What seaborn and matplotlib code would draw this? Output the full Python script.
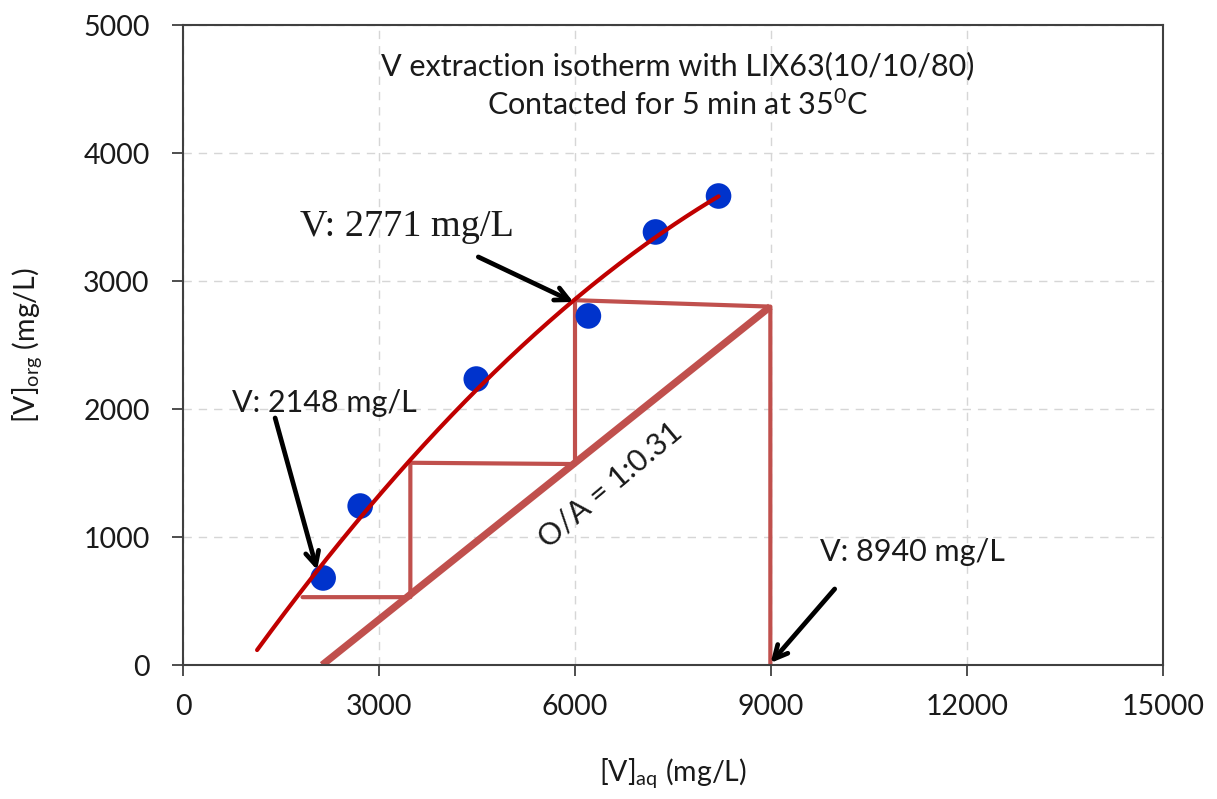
import matplotlib
matplotlib.use("Agg")
import matplotlib.pyplot as plt
import seaborn as sns
import numpy as np
import pandas as pd

# ---- data ----
exp_aq = [2145, 2712, 4489, 6205, 7232, 8197]
exp_org = [680, 1242, 2234, 2727, 3383, 3664]

# points
curve_aq = [1134, 2053, 3478, 4045, 4704, 5960, 7232, 8197]
curve_org = [117, 742, 1586, 1938, 2227, 2852, 3359, 3648]

# operating line
op_aq = [2130, 8990]
op_org = [0, 2800]

# McCabe-Thiele staircase
stair_aq = [8990, 8990, 6000, 6000, 3480, 3480, 1830]
stair_org = [0, 2800, 2850, 1570, 1580, 530, 530]

title_lines = ["V extraction isotherm with LIX63(10/10/80)", r"Contacted for 5 min at 35$^{0}$C"]
x_ticks = [0, 3000, 6000, 9000, 12000, 15000]
y_ticks = [0, 1000, 2000, 3000, 4000, 5000]

sns.set_theme(style="white")
plt.rcParams['font.family'] = ['Lato', 'DejaVu Sans']
plt.rcParams['mathtext.fontset'] = 'custom'
plt.rcParams['mathtext.rm'] = 'Lato'
plt.rcParams['mathtext.it'] = 'Lato'
plt.rcParams['mathtext.bf'] = 'Lato'

fig = plt.figure(figsize=(12.17, 7.99), dpi=100)
ax = fig.add_axes([183/1217, 1-665/799, (1163-183)/1217, (665-25)/799])

# grid
ax.grid(True, color="#D6D6D6", linestyle=(0, (6, 5)), linewidth=1.0)
ax.set_axisbelow(True)

# fitted curve (quadratic through read curve points)
coef = np.polyfit(curve_aq, curve_org, 2)
xs = np.linspace(min(curve_aq), max(curve_aq), 200)
curve_df = pd.DataFrame({"aq": xs, "org": np.polyval(coef, xs)})

stair_df = pd.DataFrame({"aq": stair_aq, "org": stair_org})
sns.lineplot(data=stair_df, x="aq", y="org", sort=False, estimator=None,
             color="#C0504D", linewidth=3.0, ax=ax, zorder=2)
op_df = pd.DataFrame({"aq": op_aq, "org": op_org})
sns.lineplot(data=op_df, x="aq", y="org", sort=False, estimator=None,
             color="#C0504D", linewidth=5.2, ax=ax, zorder=2, solid_capstyle="butt")
exp_df = pd.DataFrame({"aq": exp_aq, "org": exp_org})
sns.scatterplot(data=exp_df, x="aq", y="org", color="#0033CC", s=340,
                edgecolor="none", ax=ax, zorder=3)
sns.lineplot(data=curve_df, x="aq", y="org", sort=False, estimator=None,
             color="#C00000", linewidth=3.0, ax=ax, zorder=4)

ax.set_xlim(0, 15000)
ax.set_ylim(0, 5000)
ax.set_xticks(x_ticks)
ax.set_yticks(y_ticks)
ax.tick_params(axis="both", direction="out", length=8, width=1.3, color="#404040",
               labelsize=20.5, labelcolor="#1a1a1a")
ax.tick_params(axis="x", pad=13, bottom=True)
ax.tick_params(axis="y", pad=16, left=True)
for s in ax.spines.values():
    s.set_color("#404040")
    s.set_linewidth(1.5)

ax.set_xlabel(r"[V]$_{\mathrm{aq}}$ (mg/L)", fontsize=20.5, color="#1a1a1a", labelpad=26)
ax.set_ylabel(r"[V]$_{\mathrm{org}}$ (mg/L)", fontsize=20.5, color="#1a1a1a", labelpad=28)

ax.text(7569, 4680, title_lines[0], fontsize=22, ha="center", va="center", color="#1a1a1a")
ax.text(7569, 4375, title_lines[1], fontsize=22, ha="center", va="center", color="#1a1a1a")

def arr(tail, tip):
    ax.annotate("", xy=tip, xytext=tail,
                arrowprops=dict(arrowstyle="->,head_length=0.8,head_width=0.4",
                                color="black", lw=3.4, shrinkA=0, shrinkB=0),
                zorder=6)

ax.text(3432, 3422, "V: 2771 mg/L", fontsize=27.5, family="Liberation Serif",
        ha="center", va="center", color="#1a1a1a")
arr((4520, 3188), (5975, 2836))

ax.text(2160, 2047, "V: 2148 mg/L", fontsize=22, ha="center", va="center", color="#1a1a1a")
arr((1410, 1930), (2053, 742))

ax.text(11170, 883, "V: 8940 mg/L", fontsize=22, ha="center", va="center", color="#1a1a1a")
arr((9975, 594), (8994, 16))

ax.text(6542, 1406, "O/A = 1:0.31", fontsize=22, ha="center", va="center",
        rotation=40, color="#1a1a1a")

fig.savefig("out.png", dpi=100)
